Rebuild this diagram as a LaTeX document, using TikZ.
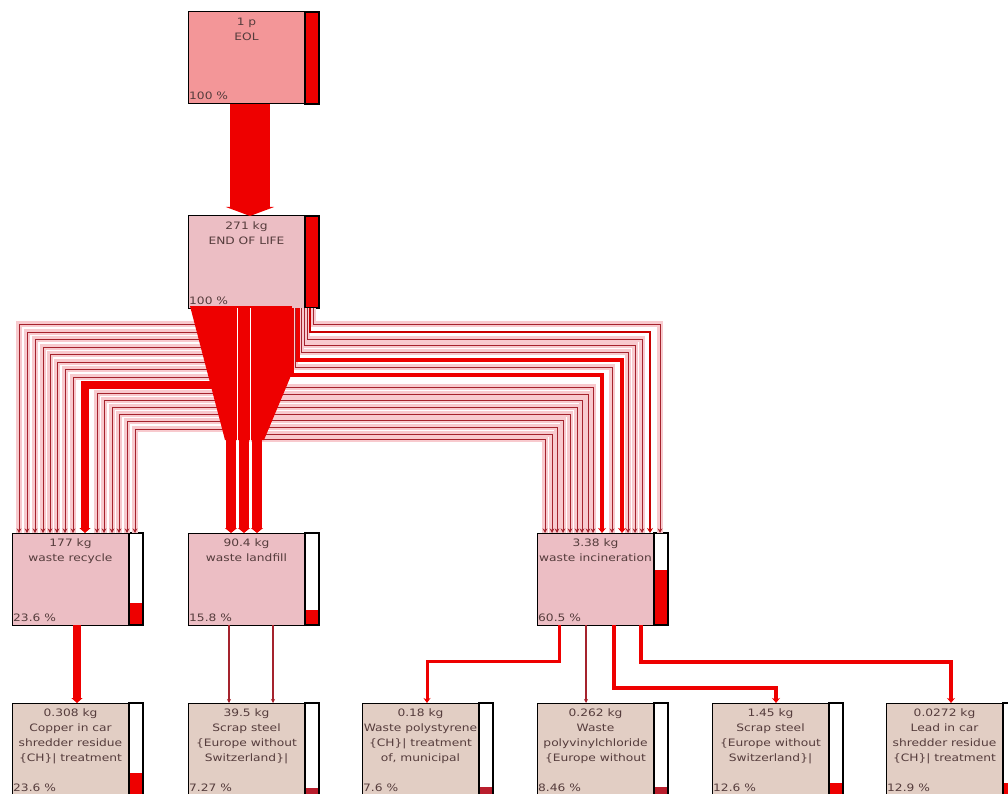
\documentclass[tikz,border=0pt]{standalone}
\usepackage{fontspec}
\setmainfont{DejaVu Sans}[FakeStretch=1.2]
\usetikzlibrary{arrows.meta,positioning}
\definecolor{eolpink}{RGB}{243,150,152}
\definecolor{lifepink}{RGB}{236,190,196}
\definecolor{endbeige}{RGB}{226,206,196}
\definecolor{flowred}{RGB}{238,0,0}
\definecolor{flowdark}{RGB}{165,35,45}
\definecolor{flowpink}{RGB}{248,202,206}
\definecolor{barmaroon}{RGB}{185,30,45}
\definecolor{boxink}{RGB}{85,60,60}
\newcommand\boxfont{\fontsize{10.2}{15}\selectfont}
\newcommand\procbox[8]{%
	\node[procbox, fill=#4, anchor=north west] (#1) at (#2,#3) {};
	\node[barbox, anchor=north west] (#1bar) at (#1.north east) {};
	\fill[#8] ([xshift=0.8pt,yshift=0.8pt]#1bar.south west) rectangle ([xshift=-0.8pt,yshift=0.8pt+#7*90.4pt]#1bar.south east);
	\draw[line width=1.6pt] (#1bar.south west) rectangle (#1bar.north east);
	\node[boxtext, below=6pt of #1.north] {#5};
	\node[pcttext, anchor=base west] at ([xshift=1pt,yshift=4pt]#1.south west) {#6};
}

\begin{document}
\begin{tikzpicture}[x=1pt, y=-1pt,
		procbox/.style={draw=black, line width=1pt, minimum width=117pt, minimum height=92pt, inner sep=0pt, outer sep=0pt},
		barbox/.style={fill=white, minimum width=14pt, minimum height=92pt, inner sep=0pt, outer sep=0pt},
		boxtext/.style={align=center, font=\boxfont, text=boxink, inner sep=0pt},
		pcttext/.style={font=\boxfont, text=boxink, inner sep=0pt},
		thinflow/.style={draw=flowdark, line width=0.9pt, preaction={draw=flowpink, line width=5.4pt, arrows=-}, -{Stealth[length=4.5pt,width=4.5pt]}},
		midflow/.style={draw=flowred!85!black, line width=2pt, -{Stealth[length=5pt,width=6pt]}},
		thickflow/.style={draw=flowred, line width=4pt, -{Stealth[length=5pt,width=8pt]}},
		fatflow/.style={draw=flowred, line width=8pt, -{Triangle[length=5pt,width=11pt]}},
		flowbar/.style={draw=flowred, line width=10pt, -{Triangle[length=5pt,width=12pt]}},
		thinline/.style={draw=flowdark, line width=1.2pt, -{Stealth[length=4pt,width=4pt]}}]
	\useasboundingbox (0,0) rectangle (1008,794);
	
	%%%%% boxes %%%%%
	\procbox{eol}{188}{12}{eolpink}{1 p\\EOL}{100 \%}{1}{flowred}
	\procbox{life}{188}{216}{lifepink}{271 kg\\END OF LIFE}{100 \%}{1}{flowred}
	
	\procbox{recycle}{12}{533}{lifepink}{177 kg\\waste recycle}{23.6 \%}{0.236}{flowred}
	\procbox{fill}{188}{533}{lifepink}{90.4 kg\\waste landfill}{15.8 \%}{0.158}{flowred}
	\procbox{burn}{537}{533}{lifepink}{3.38 kg\\waste incineration}{60.5 \%}{0.605}{flowred}
	
	\procbox{copper}{12}{703}{endbeige}{0.308 kg\\Copper in car\\shredder residue\\\{CH\}| treatment}{23.6 \%}{0.236}{flowred}
	\procbox{scrapA}{188}{703}{endbeige}{39.5 kg\\Scrap steel\\\{Europe without\\Switzerland\}|}{7.27 \%}{0.0727}{barmaroon}
	\procbox{styro}{362}{703}{endbeige}{0.18 kg\\Waste polystyrene\\\{CH\}| treatment\\of, municipal}{7.6 \%}{0.076}{barmaroon}
	\procbox{pvc}{537}{703}{endbeige}{0.262 kg\\Waste\\polyvinylchloride\\\{Europe without}{8.46 \%}{0.0846}{barmaroon}
	\procbox{scrapB}{712}{703}{endbeige}{1.45 kg\\Scrap steel\\\{Europe without\\Switzerland\}|}{12.6 \%}{0.126}{flowred}
	\procbox{lead}{886}{703}{endbeige}{0.0272 kg\\Lead in car\\shredder residue\\\{CH\}| treatment}{12.9 \%}{0.129}{flowred}
	
	%%%%% flows %%%%%
	\draw[line width=40pt, flowred, -{Triangle[length=9pt,width=48pt]}] ([xshift=62pt]eol.south west) -- ([xshift=62pt]life.north west);
	
	% to recycle
	\foreach \dx/\dy in {7/16, 15/24, 23/31, 31/39, 38/46, 45/54, 53/61, 61/69, 85/85, 92/92, 100/99, 107/106, 115/113, 123/121}
		\draw[thinflow] ([xshift=42pt]life.south west) -- ++(0,\dy) -| ([xshift=\dx pt]recycle.north west);
	\draw[fatflow] ([xshift=42pt]life.south west) -- ++(0,77) -| ([xshift=73pt]recycle.north west);
	
	% to incineration
	\foreach \sx/\dy/\dx in {125/16/123, 119/31/105, 116/37/98, 113/44/91, 107/59/75, 62/79/56, 62/86/51, 62/92/45, 62/99/40, 62/106/33, 62/112/26, 62/119/20, 62/126/15, 62/131/8}
		\draw[thinflow] ([xshift=\sx pt]life.south west) -- ++(0,\dy) -| ([xshift=\dx pt]burn.north west);
	\draw[midflow] ([xshift=122pt]life.south west) -- ++(0,24) -| ([xshift=113pt]burn.north west);
	\draw[thickflow] ([xshift=110pt]life.south west) -- ++(0,52) -| ([xshift=85pt]burn.north west);
	\draw[thickflow] ([xshift=104pt]life.south west) -- ++(0,67) -| ([xshift=65pt]burn.north west);
	
	% to landfill
	\fill[flowred] (190,306) -- (292,306) -- (290,378) -- (264,440) -- (225,440) -- cycle;
	\foreach \dx in {43,56,69}
		\draw[flowbar] ([xshift=\dx pt]life.south west) -- ([xshift=\dx pt]fill.north west);
	\foreach \dx in {49.5,62.5}
		\draw[white, line width=1.2pt] ([xshift=\dx pt]life.south west) -- ([xshift=\dx pt, yshift=6pt]fill.north west);
	
	% lower level
	\draw[fatflow] ([xshift=65pt]recycle.south west) -- ([xshift=65pt]copper.north west);
	\foreach \dx in {41,85}
		\draw[thinline] ([xshift=\dx pt]fill.south west) -- ([xshift=\dx pt]scrapA.north west);
	\draw[flowred, line width=3pt, -{Stealth[length=5pt,width=7pt]}] ([xshift=22pt]burn.south west) -- ++(0,36) -| ([xshift=65pt]styro.north west);
	\draw[thinline] ([xshift=49pt]burn.south west) -- ([xshift=49pt]pvc.north west);
	\draw[thickflow] ([xshift=77pt]burn.south west) -- ++(0,63) -| ([xshift=64pt]scrapB.north west);
	\draw[thickflow] ([xshift=104pt]burn.south west) -- ++(0,37) -| ([xshift=65pt]lead.north west);
\end{tikzpicture}
\end{document}
